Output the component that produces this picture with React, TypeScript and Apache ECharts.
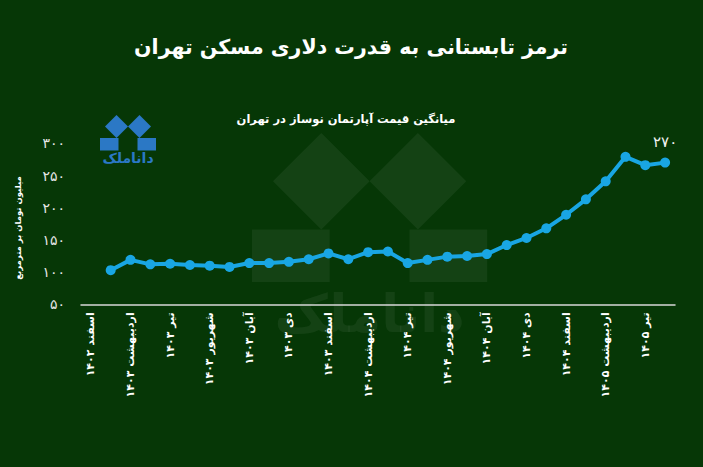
import React, { useEffect, useRef } from "react";
import * as echarts from "echarts";

const categories = [
  "اسفند ۱۴۰۲",
  "فروردین ۱۴۰۳", "اردیبهشت ۱۴۰۳", "خرداد ۱۴۰۳", "تیر ۱۴۰۳", "مرداد ۱۴۰۳", "شهریور ۱۴۰۳",
  "مهر ۱۴۰۳", "آبان ۱۴۰۳", "آذر ۱۴۰۳", "دی ۱۴۰۳", "بهمن ۱۴۰۳", "اسفند ۱۴۰۳",
  "فروردین ۱۴۰۴", "اردیبهشت ۱۴۰۴", "خرداد ۱۴۰۴", "تیر ۱۴۰۴", "مرداد ۱۴۰۴", "شهریور ۱۴۰۴",
  "مهر ۱۴۰۴", "آبان ۱۴۰۴", "آذر ۱۴۰۴", "دی ۱۴۰۴", "بهمن ۱۴۰۴", "اسفند ۱۴۰۴",
  "فروردین ۱۴۰۵", "اردیبهشت ۱۴۰۵", "خرداد ۱۴۰۵", "تیر ۱۴۰۵", "مرداد ۱۴۰۵",
];

// average price of new apartments in Tehran (million toman per m²)
const prices: (number | null)[] = [
  null,
  103, 119, 112, 113, 111, 110, 108, 114, 114, 116, 120, 129,
  120, 131, 132, 114, 119, 124, 125, 128, 142, 153, 168, 189,
  213, 241, 279, 266, 270,
];

const yTicks = [50, 100, 150, 200, 250, 300];

const TITLE = "ترمز تابستانی به قدرت دلاری مسکن تهران";
const SUBTITLE = "میانگین قیمت آپارتمان نوساز در تهران";
const Y_NAME = "میلیون تومان بر مترمربع";
const LOGO_TEXT = "داناملک";

const FA_DIGITS = "۰۱۲۳۴۵۶۷۸۹";
const toFa = (s: string) => s.replace(/\d/g, (d) => FA_DIGITS[Number(d)]);

const FONT = "DejaVu Sans";

function logo(x0: number, y0: number, s: number, fill: string, textSize: number, z: number) {
  const P = (x: number, y: number) => [x0 + x * s, y0 + y * s];
  const diamond = (cx: number, cy: number, r: number) => [P(cx - r, cy), P(cx, cy - r), P(cx + r, cy), P(cx, cy + r)];
  return [
    { type: "polygon", z, shape: { points: diamond(16.5, 13.5, 11.5) }, style: { fill } },
    { type: "polygon", z, shape: { points: diamond(39.5, 13.5, 11.5) }, style: { fill } },
    { type: "rect", z, shape: { x: x0, y: y0 + 25 * s, width: 18.5 * s, height: 12.5 * s }, style: { fill } },
    { type: "rect", z, shape: { x: x0 + 37.5 * s, y: y0 + 25 * s, width: 18.5 * s, height: 12.5 * s }, style: { fill } },
    {
      type: "text", z, x: x0 + 28 * s, y: y0 + 45 * s,
      style: { text: LOGO_TEXT, fill, font: `bold ${textSize}px "${FONT}"`, align: "center", verticalAlign: "middle" },
    },
  ];
}

export default function App() {
  const ref = useRef<HTMLDivElement>(null);
  useEffect(() => {
    const chart = echarts.init(ref.current!, null, { renderer: "svg" });
    const last = prices.length - 1;
    const seriesData = prices.map((v, i) =>
      i === last
        ? {
            value: v,
            label: {
              show: true, position: "top", distance: 8,
              formatter: (p: any) => toFa(String(p.value)),
              color: "#f2f2f2", fontSize: 15, fontFamily: FONT,
            },
          }
        : v
    );
    chart.setOption({
      animation: false,
      backgroundColor: "#063706",
      graphic: [
        ...logo(252, 124.6, 4.2, "rgba(255,255,255,0.06)", 52, -10),
        ...logo(100, 113, 1, "#2b78c5", 14, 5),
        {
          type: "text", x: 351, y: 47,
          style: { text: TITLE, fill: "#ffffff", font: `bold 20.5px "${FONT}"`, align: "center", verticalAlign: "middle" },
        },
        {
          type: "text", x: 346, y: 119,
          style: { text: SUBTITLE, fill: "#ffffff", font: `bold 11.5px "${FONT}"`, align: "center", verticalAlign: "middle" },
        },
        {
          type: "text", x: 18, y: 228, rotation: Math.PI / 2,
          style: { text: Y_NAME, fill: "#ffffff", font: `bold 8.5px "${FONT}"`, align: "center", verticalAlign: "middle" },
        },
      ],
      grid: { left: 81, right: 28, top: 143.3, bottom: 162.7, containLabel: false },
      xAxis: {
        type: "category",
        data: categories,
        boundaryGap: true,
        axisLine: { lineStyle: { color: "#d8d8d8", width: 1.5 } },
        axisTick: { show: false },
        axisLabel: {
          interval: 1, rotate: 90, margin: 8,
          color: "#ffffff", fontSize: 11, fontWeight: "bold", fontFamily: FONT,
        },
      },
      yAxis: {
        type: "value",
        min: yTicks[0], max: yTicks[yTicks.length - 1], interval: 50,
        axisLine: { show: false },
        axisTick: { show: false },
        splitLine: { show: false },
        axisLabel: {
          margin: 16, color: "#e6e6e6", fontSize: 14, fontFamily: FONT,
          formatter: (v: number) => toFa(String(v)),
        },
      },
      series: [
        {
          type: "line",
          data: seriesData,
          connectNulls: false,
          symbol: "circle",
          symbolSize: 10,
          lineStyle: { color: "#19a6e3", width: 4 },
          itemStyle: { color: "#19a6e3" },
          z: 3,
        },
      ],
    });
    return () => chart.dispose();
  }, []);
  return <div ref={ref} style={{ position: "fixed", left: 0, top: 0, width: 703, height: 467 }} />;
}
